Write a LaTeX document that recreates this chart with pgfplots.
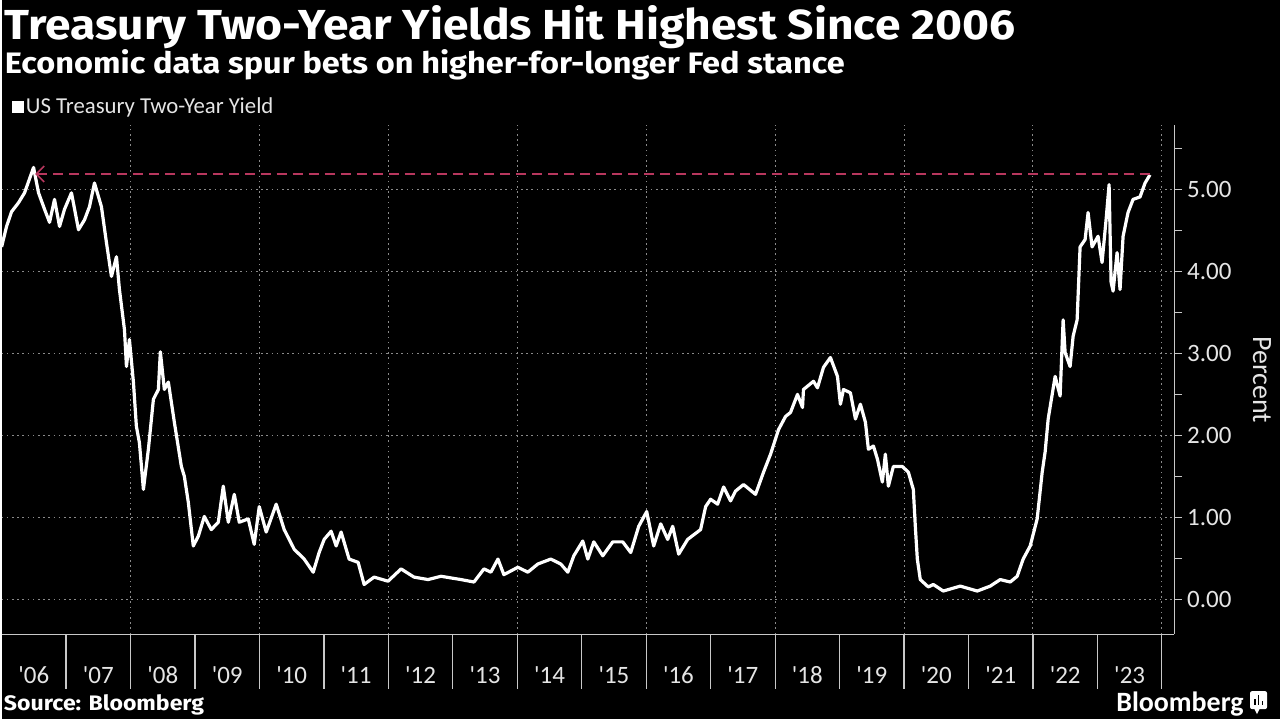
\documentclass[border=0pt]{standalone}
\usepackage{fontspec}
\setmainfont{Carlito}
\newfontfamily\headfont[FakeStretch=1.1]{Fira Sans}
\usepackage{pgfplots}
\pgfplotsset{compat=1.18}
\usetikzlibrary{arrows.meta}
\definecolor{gridgray}{HTML}{8A8A8A}
\definecolor{axisgray}{HTML}{C8C8C8}
\definecolor{peak}{HTML}{B8375E}

\pgfplotstableread{
year yield
2006.000 4.30
2006.077 4.55
2006.155 4.73
2006.263 4.84
2006.356 4.96
2006.496 5.27
2006.573 4.96
2006.666 4.76
2006.744 4.60
2006.821 4.88
2006.899 4.55
2006.976 4.76
2007.084 4.96
2007.193 4.51
2007.286 4.63
2007.363 4.79
2007.441 5.08
2007.549 4.79
2007.627 4.35
2007.704 3.94
2007.782 4.18
2007.828 3.78
2007.906 3.29
2007.937 2.84
2007.983 3.17
2008.045 2.65
2008.091 2.11
2008.138 1.91
2008.200 1.34
2008.277 1.83
2008.355 2.44
2008.432 2.56
2008.463 3.02
2008.525 2.56
2008.587 2.65
2008.680 2.16
2008.789 1.62
2008.835 1.50
2008.897 1.18
2008.974 0.65
2009.052 0.77
2009.145 1.01
2009.253 0.85
2009.362 0.94
2009.439 1.38
2009.517 0.94
2009.610 1.28
2009.687 0.94
2009.827 0.98
2009.919 0.67
2009.997 1.13
2010.105 0.82
2010.260 1.16
2010.384 0.85
2010.539 0.61
2010.694 0.49
2010.834 0.33
2010.926 0.57
2011.004 0.73
2011.112 0.83
2011.190 0.65
2011.267 0.82
2011.391 0.49
2011.531 0.45
2011.624 0.18
2011.778 0.27
2011.995 0.22
2012.197 0.37
2012.398 0.27
2012.615 0.24
2012.816 0.28
2013.126 0.24
2013.328 0.21
2013.483 0.37
2013.591 0.33
2013.700 0.49
2013.792 0.30
2014.009 0.39
2014.164 0.33
2014.319 0.43
2014.520 0.49
2014.675 0.43
2014.784 0.33
2014.877 0.53
2015.016 0.71
2015.094 0.49
2015.187 0.70
2015.326 0.53
2015.481 0.70
2015.636 0.70
2015.760 0.57
2015.884 0.89
2016.008 1.07
2016.116 0.65
2016.225 0.92
2016.333 0.73
2016.411 0.89
2016.504 0.55
2016.643 0.73
2016.844 0.85
2016.922 1.13
2016.999 1.22
2017.108 1.16
2017.201 1.37
2017.309 1.20
2017.386 1.32
2017.510 1.40
2017.696 1.28
2017.820 1.55
2017.929 1.77
2018.053 2.07
2018.161 2.23
2018.239 2.28
2018.347 2.50
2018.425 2.34
2018.440 2.56
2018.595 2.66
2018.657 2.58
2018.750 2.83
2018.858 2.95
2018.967 2.72
2019.013 2.38
2019.060 2.56
2019.168 2.52
2019.246 2.20
2019.323 2.38
2019.401 2.16
2019.447 1.83
2019.525 1.87
2019.587 1.71
2019.664 1.43
2019.710 1.77
2019.757 1.38
2019.834 1.62
2019.974 1.62
2020.067 1.55
2020.144 1.34
2020.175 0.89
2020.206 0.49
2020.252 0.24
2020.376 0.15
2020.454 0.18
2020.609 0.10
2020.872 0.16
2021.136 0.10
2021.337 0.16
2021.492 0.24
2021.647 0.21
2021.755 0.28
2021.848 0.49
2021.957 0.65
2022.065 0.98
2022.143 1.55
2022.189 1.80
2022.236 2.20
2022.267 2.35
2022.344 2.72
2022.421 2.48
2022.468 3.41
2022.499 3.01
2022.576 2.84
2022.623 3.21
2022.685 3.41
2022.731 4.30
2022.809 4.39
2022.855 4.72
2022.917 4.30
2023.010 4.43
2023.072 4.11
2023.134 4.63
2023.181 5.06
2023.212 3.87
2023.243 3.76
2023.305 4.23
2023.351 3.78
2023.398 4.43
2023.475 4.72
2023.553 4.88
2023.661 4.91
2023.739 5.08
2023.815 5.18
}\yields

\begin{document}
\begin{tikzpicture}
\fill[black] (0,0) rectangle (640pt,360pt);
\begin{axis}[
  at={(0pt,42.5pt)}, anchor=south west,
  scale only axis, width=587pt, height=255pt,
  xmin=2006, xmax=2024.19, ymin=-0.427, ymax=5.79,
  axis x line*=bottom, axis y line*=right,
  axis line style={axisgray, line width=0.6pt, -},
  clip=false,
  % year labels sit in the middle of each year
  xtick={2006.5,2007.5,...,2023.5},
  xticklabels={\textquotesingle06,\textquotesingle07,\textquotesingle08,\textquotesingle09,
    \textquotesingle10,\textquotesingle11,\textquotesingle12,\textquotesingle13,\textquotesingle14,
    \textquotesingle15,\textquotesingle16,\textquotesingle17,\textquotesingle18,\textquotesingle19,
    \textquotesingle20,\textquotesingle21,\textquotesingle22,\textquotesingle23},
  xtick style={draw=none},
  xticklabel style={white!90!black, font=\fontsize{12.5}{14}\selectfont, yshift=-8.5pt},
  extra x ticks={2008,2010,...,2024},
  extra x tick labels={},
  extra x tick style={grid=major},
  ytick={0,1,...,5},
  minor ytick={-0.5,0.5,1.5,...,5.5},
  ymajorgrids,
  major grid style={gridgray, line width=0.5pt, dash pattern=on 0.8pt off 1.8pt},
  tick align=outside,
  major tick length=4pt, minor tick length=4pt,
  ytick style={axisgray, line width=0.6pt},
  yticklabel pos=right,
  yticklabel style={white!90!black, font=\fontsize{12.5}{14}\selectfont, xshift=-1pt},
  /pgf/number format/.cd, fixed, fixed zerofill, precision=2, assume math mode=true,
]
\addplot[white, line width=1.6pt, line join=round] table[x=year, y=yield] {\yields};
\draw[peak, line width=0.8pt, dash pattern=on 5pt off 3pt,
      {Straight Barb[length=4pt, width=8pt]}-]
  (axis cs:2006.52,5.19) -- (axis cs:2023.82,5.19);
\pgfplotsinvokeforeach{2007,2008,...,2024}{
  \draw[axisgray, line width=0.6pt] (axis cs:#1,-0.427) -- ([yshift=-27.5pt]axis cs:#1,-0.427);
}
\end{axis}

% titles and legend
\node[anchor=base west, inner sep=0, white, font=\headfont\bfseries\fontsize{21}{24}\selectfont]
  at (1.5pt,340pt) {Treasury Two-Year Yields Hit Highest Since 2006};
\node[anchor=base west, inner sep=0, white, font=\headfont\bfseries\fontsize{14.8}{17}\selectfont]
  at (1.5pt,323pt) {Economic data spur bets on higher-for-longer Fed stance};
\fill[white] (5pt,303.5pt) rectangle (11pt,309.5pt);
\node[anchor=base west, inner sep=0, white!90!black, font=\fontsize{11.4}{13}\selectfont]
  at (12pt,303pt) {US Treasury Two-Year Yield};
\node[rotate=-90, white!90!black, font=\fontsize{14}{16}\selectfont] at (631pt,170pt) {Percent};

% footer
\node[anchor=base west, inner sep=0, white, font=\headfont\bfseries\fontsize{10.5}{13}\selectfont]
  at (1pt,4.5pt) {Source: Bloomberg};
\node[anchor=base east, inner sep=0, white, font=\bfseries\fontsize{14}{16}\selectfont]
  at (622pt,4pt) {Bloomberg};
\fill[white, rounded corners=1pt] (625pt,5pt) rectangle (633.5pt,14pt);
\fill[white] (627pt,5.5pt) -- (628.5pt,2.5pt) -- (630pt,5.5pt) -- cycle;
\fill[black] (627pt,7pt) rectangle (627.8pt,10pt);
\fill[black] (628.9pt,7pt) rectangle (629.7pt,12pt);
\fill[black] (630.8pt,7pt) rectangle (631.6pt,9pt);
\end{tikzpicture}
\end{document}
